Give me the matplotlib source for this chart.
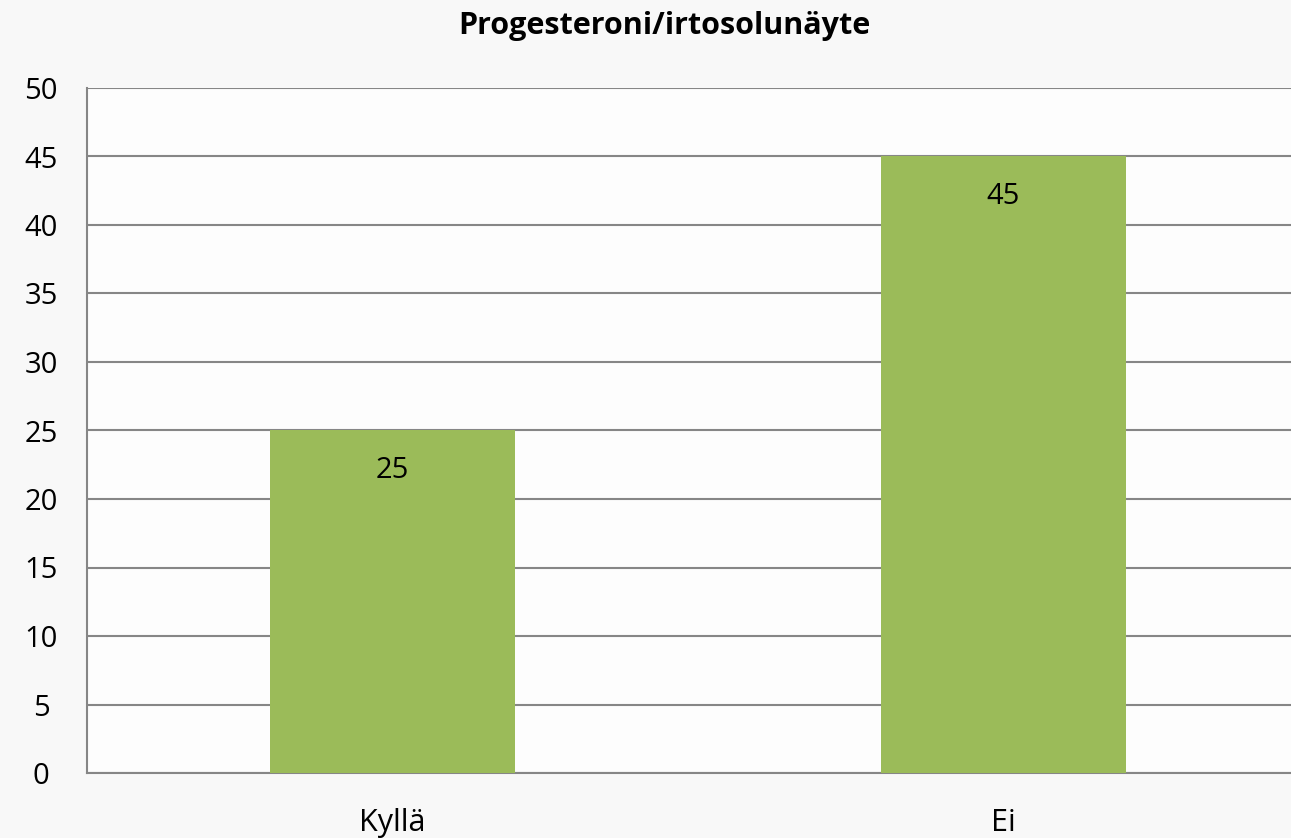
import matplotlib
matplotlib.use("Agg")
import matplotlib.pyplot as plt

categories = ["Kyllä", "Ei"]
counts = [25, 45]
y_ticks = list(range(0, 51, 5))
title = "Progesteroni/irtosolunäyte"

BAR = "#9BBB59"
GRID = "#868686"

plt.rcParams["font.family"] = ["Open Sans", "DejaVu Sans"]

fig = plt.figure(figsize=(12.91, 8.38), dpi=100, facecolor="#f8f8f8")
ax = fig.add_axes([87 / 1291, 1 - 773 / 838, 1222 / 1291, (773 - 88) / 838])
ax.set_facecolor("#fdfdfd")

x = range(len(categories))
bars = ax.bar(x, counts, width=0.4, color=BAR, zorder=3)
for b, v in zip(bars, counts):
    ax.text(b.get_x() + b.get_width() / 2, v - 2.9, str(v),
            ha="center", va="center", fontsize=21, color="black", zorder=4)

ax.set_xlim(-0.5, len(categories) - 0.5)
ax.set_ylim(0, 50)
ax.set_yticks(y_ticks)
ax.set_yticklabels([str(t) for t in y_ticks], fontsize=21)
ax.set_xticks(list(x))
ax.set_xticklabels(categories, fontsize=22)
ax.tick_params(length=0)
ax.tick_params(axis="y", pad=33)
ax.tick_params(axis="x", pad=25)
for lab in ax.get_yticklabels():
    lab.set_horizontalalignment("center")
ax.yaxis.grid(True, color=GRID, lw=1.5, zorder=1)
ax.set_axisbelow(True)

for s in ["top", "right"]:
    ax.spines[s].set_visible(False)
for s in ["left", "bottom"]:
    ax.spines[s].set_color(GRID)
    ax.spines[s].set_linewidth(1.5)

fig.text(664 / 1291, 1 - 26 / 838, title, ha="center", va="center",
         fontsize=22, fontweight="bold")

fig.savefig("out.png", dpi=100, facecolor=fig.get_facecolor())
